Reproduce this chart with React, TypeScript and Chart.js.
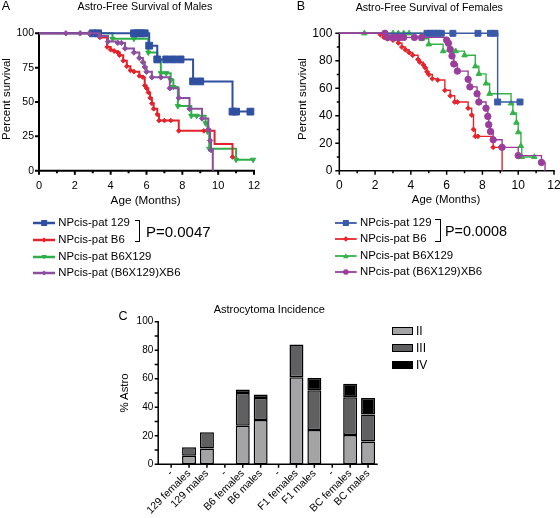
import React, { useEffect, useRef } from "react";
import { Chart, registerables } from "chart.js";

Chart.register(...registerables);

const FONT = "'Liberation Sans', Arial, Helvetica, sans-serif";
Chart.defaults.font.family = FONT;
Chart.defaults.color = "#000";

// ---------- shared ----------
const ageTicks = [0, 2, 4, 6, 8, 10, 12];
const ageMinor = [1, 3, 5, 7, 9, 11];
const malePctTicks = [0, 25, 50, 75, 100];
const femalePctTicks = [0, 20, 40, 60, 80, 100];
const femalePctMinor = [10, 30, 50, 70, 90];
const seriesNames = ["NPcis-pat 129", "NPcis-pat B6", "NPcis-pat B6X129", "NPcis-pat (B6X129)XB6"];

// ---------- Panel A: males (months, % survival, censor/marker flag) ----------
const m129Time = [0, 3.0, 3.3, 5.3, 5.5, 5.7, 5.9, 6.15, 6.6, 7.1, 7.5, 7.9, 8.6, 9.0, 10.8, 11.0, 11.8];
const m129Surv = [100, 100, 100, 100, 100, 100, 100, 91, 81, 81, 81, 81, 65, 65, 43, 43, 43];
const m129Mark = [0, 1, 1, 1, 1, 1, 1, 1, 1, 1, 1, 1, 1, 1, 1, 1, 1];

const mB6Time = [0, 3.4, 3.8, 4.0, 4.2, 4.4, 4.5, 4.7, 4.9, 5.1, 5.3, 5.6, 5.8, 5.9, 6.0, 6.1, 6.2, 6.3, 6.4, 6.6, 6.7, 7.0, 7.35, 7.8, 9.2, 9.8, 10.8];
const mB6Surv = [100, 97, 90, 88, 87, 86, 84, 80, 76, 73, 72, 69, 68, 62, 60, 57, 53, 49, 45, 41, 36.5, 36.5, 36.5, 29, 29, 19.5, 10];
const mB6Mark = [0, 1, 1, 1, 1, 1, 1, 1, 1, 1, 1, 1, 1, 1, 1, 1, 1, 1, 1, 1, 1, 1, 1, 1, 1, 0, 1];

const mB6X129Time = [0, 4.1, 5.3, 6.1, 6.6, 6.8, 7.1, 7.35, 7.5, 7.75, 8.5, 8.8, 9.3, 9.4, 9.5, 11.0, 11.95];
const mB6X129Surv = [100, 96, 96, 86, 81, 71, 71, 66, 61, 47, 40, 40, 34.5, 28.5, 16, 8, 8];
const mB6X129Mark = [0, 1, 1, 1, 1, 1, 1, 1, 1, 1, 1, 1, 1, 1, 1, 1, 1];

const mMixTime = [0, 1.5, 2.3, 2.8, 3.4, 3.85, 4.4, 4.6, 4.8, 5.3, 5.6, 5.8, 5.9, 6.0, 6.3, 6.8, 7.3, 7.8, 8.4, 9.1, 9.45, 9.55, 9.6, 9.7];
const mMixSurv = [100, 100, 100, 100, 98, 94, 93, 93, 89, 86, 82, 79, 75.5, 72, 68, 68, 60, 53, 45, 38, 30, 22, 15, 0];
const mMixMark = [0, 1, 1, 1, 1, 1, 1, 1, 1, 1, 1, 1, 1, 1, 1, 1, 1, 1, 1, 1, 1, 1, 1, 0];

// ---------- Panel B: females ----------
const f129Time = [0, 4.9, 5.1, 5.3, 5.5, 5.7, 6.35, 7.75, 8.45, 8.7, 8.85, 10.1];
const f129Surv = [100, 100, 100, 100, 100, 100, 100, 100, 100, 100, 50, 50];
const f129Mark = [0, 1, 1, 1, 1, 1, 1, 1, 1, 1, 1, 1];

const fB6Time = [0, 2.3, 2.5, 2.7, 3.0, 3.3, 3.5, 3.7, 3.9, 4.1, 4.4, 4.5, 4.7, 4.8, 4.9, 5.0, 5.2, 5.5, 5.9, 6.2, 6.45, 6.6, 7.2, 7.4, 7.5, 7.6, 7.75, 8.6, 9.0, 9.1];
const fB6Surv = [100, 99, 97, 96, 95, 93, 90, 88, 86, 84, 81, 79, 77, 75, 72, 70, 67, 66, 58.5, 54.5, 50, 50, 45.5, 40.5, 30, 25, 25, 17, 17, 0];
const fB6Mark = [0, 1, 1, 1, 1, 1, 1, 1, 1, 1, 1, 1, 1, 1, 1, 1, 1, 1, 1, 1, 1, 1, 1, 1, 1, 1, 1, 1, 1, 0];

const fB6X129Time = [0, 1.4, 3.0, 3.3, 3.6, 3.9, 4.6, 5.0, 5.8, 6.5, 7.0, 7.6, 7.8, 8.2, 8.4, 9.6, 9.7, 9.9, 10.0, 10.15, 10.2, 10.9];
const fB6X129Surv = [100, 100, 100, 100, 100, 100, 96, 92, 87, 87, 84, 76, 70.5, 63.5, 56, 49, 42, 35, 28, 18, 10, 10];
const fB6X129Mark = [0, 1, 1, 1, 1, 1, 1, 1, 1, 1, 1, 1, 1, 1, 1, 1, 1, 1, 1, 1, 1, 1];

const fMixTime = [0, 2.55, 2.7, 3.0, 3.2, 3.4, 3.6, 4.2, 4.6, 6.0, 6.1, 6.2, 6.3, 6.4, 6.6, 7.2, 7.3, 7.7, 7.8, 8.2, 8.3, 8.35, 8.45, 8.6, 9.1, 10.0, 11.3, 11.5];
const fMixSurv = [100, 100, 97, 97, 97, 97, 97, 97, 97, 95, 92.7, 88.3, 83.5, 77.7, 72.5, 66.5, 61, 56, 50, 45.5, 39.5, 33.5, 28.5, 22.5, 17, 11, 6, 0];
const fMixMark = [0, 1, 1, 1, 1, 1, 1, 1, 1, 1, 1, 1, 1, 1, 1, 1, 1, 1, 1, 1, 1, 1, 1, 1, 1, 1, 1, 0];

// ---------- Panel C: incidence ----------
const incidenceCategories = ["-", "129 females", "129 males", "-", "B6 females", "B6 males", "-", "F1 females", "F1 males", "-", "BC females", "BC males"];
const gradeII = [null, 6, 11, null, 27, 31, null, 61, 24, null, 20.5, 16];
const gradeIII = [null, 6, 11.5, null, 23, 15.5, null, 23, 28, null, 26.5, 19];
const gradeIV = [null, null, null, null, 2.5, 2.5, null, null, 8.5, null, 9.5, 11.5];
const gradeNames = ["II", "III", "IV"];
const incidenceTicks = [0, 10, 20, 30, 40, 50, 60, 70, 80, 90, 100];

// ---------- colours ----------
const A_COLORS = ["#2f4fa0", "#e3232b", "#2fae49", "#8c4f9f"];
const B_COLORS = ["#3a5aa8", "#e6262c", "#35b34a", "#9b3d9d"];
const GRADE_COLORS = ["#a4a4a6", "#606062", "#000000"];

// ---------- plugin drawing axes + ticks ----------
const axesPlugin = {
  id: "axesDraw",
  beforeDatasetsDraw(chart: any, _args: any, opts: any) {
    const { ctx } = chart;
    const xs = chart.scales.x;
    const ys = chart.scales.y;
    const lw = opts.lineWidth || 1.5;
    const ax = chart.chartArea.left - (opts.yAxisOffset || 0);
    const y0 = ys.getPixelForValue(opts.yMin ?? 0);
    const y1 = ys.getPixelForValue(opts.yMax ?? 100);
    const xEnd = chart.chartArea.right;
    ctx.save();
    ctx.strokeStyle = "#000";
    ctx.lineWidth = lw;
    ctx.lineCap = "butt";
    ctx.beginPath();
    ctx.moveTo(ax, y1 - lw / 2);
    ctx.lineTo(ax, y0);
    ctx.lineTo(xEnd + lw / 2, y0);
    ctx.stroke();
    const major = opts.majorLen || 4;
    const minor = opts.minorLen || 2.5;
    ctx.lineWidth = opts.tickWidth || lw;
    ctx.beginPath();
    (opts.yMajor || []).forEach((v: number) => {
      const p = ys.getPixelForValue(v);
      ctx.moveTo(ax, p);
      ctx.lineTo(ax - major, p);
    });
    (opts.yMinorTicks || []).forEach((v: number) => {
      const p = ys.getPixelForValue(v);
      ctx.moveTo(ax, p);
      ctx.lineTo(ax - minor, p);
    });
    (opts.xMajor || []).forEach((v: number) => {
      const p = xs.getPixelForValue(v);
      ctx.moveTo(p, y0);
      ctx.lineTo(p, y0 + major);
    });
    (opts.xMinorTicks || []).forEach((v: number) => {
      const p = xs.getPixelForValue(v);
      ctx.moveTo(p, y0);
      ctx.lineTo(p, y0 + minor);
    });
    ctx.stroke();
    ctx.restore();
  },
};

function kmDataset(t: number[], s: number[], marks: number[], color: string, style: string, radius: number, lineWidth: number, order: number, rotation = 0) {
  return {
    data: t.map((x, i) => ({ x, y: s[i] })),
    borderColor: color,
    backgroundColor: color,
    borderWidth: lineWidth,
    stepped: "before",
    fill: false,
    clip: false,
    order,
    pointStyle: style,
    pointRotation: rotation,
    pointRadius: (c: any) => (marks[c.dataIndex] ? radius : 0),
    pointHoverRadius: 0,
    pointBorderWidth: 1,
    pointBackgroundColor: color,
    pointBorderColor: color,
    borderJoinStyle: "miter",
  };
}

function survivalConfig(datasets: any[], w: number, h: number, area: any, yStep: number, yMajor: number[], yMinor: number[], tickSize: number, yTickSize: number, xPad: number, yPad: number, axisWidth: number) {
  return {
    type: "line",
    data: { datasets },
    plugins: [axesPlugin],
    options: {
      animation: false,
      responsive: false,
      devicePixelRatio: 1,
      events: [],
      layout: { padding: { left: 0, top: area.top, right: w - area.right, bottom: 0 } },
      plugins: {
        legend: { display: false },
        tooltip: { enabled: false },
        axesDraw: {
          lineWidth: axisWidth,
          yMajor,
          yMinorTicks: yMinor,
          xMajor: ageTicks,
          xMinorTicks: ageMinor,
          majorLen: 4,
          minorLen: 2.5,
          yMin: 0,
          yMax: 100,
        },
      },
      scales: {
        x: {
          type: "linear",
          min: 0,
          max: 12,
          grid: { display: false, drawTicks: false },
          border: { display: false },
          ticks: { stepSize: 2, font: { size: tickSize, family: FONT }, color: "#000", padding: xPad, maxRotation: 0 },
          afterFit: (s: any) => {
            s.height = h - area.bottom;
            s.paddingLeft = 0;
            s.paddingRight = 0;
          },
        },
        y: {
          type: "linear",
          min: 0,
          max: 100,
          grid: { display: false, drawTicks: false },
          border: { display: false },
          ticks: { stepSize: yStep, font: { size: yTickSize, family: FONT }, color: "#000", padding: yPad },
          afterFit: (s: any) => {
            s.width = area.left;
            s.paddingTop = 0;
            s.paddingBottom = 0;
          },
        },
      },
    },
  };
}

function CanvasBox({ left, top, width, height, make }: any) {
  const ref = useRef<HTMLCanvasElement>(null);
  useEffect(() => {
    const chart = new Chart(ref.current as HTMLCanvasElement, make());
    return () => chart.destroy();
  }, []);
  return (
    <canvas
      ref={ref}
      width={width}
      height={height}
      style={{ position: "absolute", left, top, width, height }}
    />
  );
}

function Txt({ x, y, size, children, align = "center" }: any) {
  const tx = align === "center" ? "-50%" : align === "right" ? "-100%" : "0";
  return (
    <div
      style={{
        position: "absolute",
        left: x,
        top: y,
        fontSize: size,
        lineHeight: 1,
        whiteSpace: "nowrap",
        transform: `translate(${tx}, -50%)`,
        color: "#000",
      }}
    >
      {children}
    </div>
  );
}

// vertical (rotated -90deg) text in a fixed, even-sized box centred on (x, y)
function VTxt({ x, y, size, children }: any) {
  const W = 120;
  const H = 14;
  return (
    <div
      style={{
        position: "absolute",
        left: x - W / 2,
        top: y - H / 2,
        width: W,
        height: H,
        fontSize: size,
        lineHeight: `${H}px`,
        textAlign: "center",
        whiteSpace: "nowrap",
        fontWeight: 400,
        transform: "rotate(-90deg)",
        color: "#000",
      }}
    >
      {children}
    </div>
  );
}

function LegendMark({ shape, color, lineWidth, x1, x2, y, r }: any) {
  const w = x2 - x1;
  const cx = w / 2;
  const cy = 6;
  let m: any = null;
  if (shape === "square") m = <rect x={cx - r} y={cy - r} width={2 * r} height={2 * r} fill={color} />;
  else if (shape === "diamond") m = <polygon points={`${cx},${cy - r} ${cx + r},${cy} ${cx},${cy + r} ${cx - r},${cy}`} fill={color} />;
  else if (shape === "triDown") m = <polygon points={`${cx - r},${cy - r * 0.8} ${cx + r},${cy - r * 0.8} ${cx},${cy + r}`} fill={color} />;
  else if (shape === "triUp") m = <polygon points={`${cx - r},${cy + r * 0.8} ${cx + r},${cy + r * 0.8} ${cx},${cy - r}`} fill={color} />;
  else if (shape === "circle") m = <circle cx={cx} cy={cy} r={r} fill={color} />;
  return (
    <svg width={w} height={12} style={{ position: "absolute", left: x1, top: y - 6 }}>
      <line x1={0} y1={cy} x2={w} y2={cy} stroke={color} strokeWidth={lineWidth} />
      {m}
    </svg>
  );
}

function Bracket({ x1, x2, y1, y2 }: any) {
  return (
    <div
      style={{
        position: "absolute",
        left: x1,
        top: y1,
        width: x2 - x1,
        height: y2 - y1,
        borderTop: "1.5px solid #000",
        borderRight: "1.5px solid #000",
        borderBottom: "1.5px solid #000",
        boxSizing: "border-box",
      }}
    />
  );
}

export default function App() {
  const makeA = () =>
    survivalConfig(
      [
        kmDataset(m129Time, m129Surv, m129Mark, A_COLORS[0], "rect", 4.8, 2, 1),
        kmDataset(mB6Time, mB6Surv, mB6Mark, A_COLORS[1], "rectRot", 2.3, 2, 2),
        kmDataset(mB6X129Time, mB6X129Surv, mB6X129Mark, A_COLORS[2], "triangle", 3, 2, 3, 180),
        kmDataset(mMixTime, mMixSurv, mMixMark, A_COLORS[3], "rectRot", 2.7, 2, 0),
      ],
      270,
      200,
      { left: 39, top: 33.3, right: 254, bottom: 170.7 },
      25,
      malePctTicks,
      [],
      11,
      10.5,
      8.5,
      5,
      2
    );

  const makeB = () =>
    survivalConfig(
      [
        kmDataset(f129Time, f129Surv, f129Mark, B_COLORS[0], "rect", 4.2, 1.4, 1),
        kmDataset(fB6Time, fB6Surv, fB6Mark, B_COLORS[1], "rectRot", 2.4, 1.4, 2),
        kmDataset(fB6X129Time, fB6X129Surv, fB6X129Mark, B_COLORS[2], "triangle", 3.2, 1.4, 3),
        kmDataset(fMixTime, fMixSurv, fMixMark, B_COLORS[3], "circle", 3.2, 1.4, 0),
      ],
      280,
      200,
      { left: 59.3, top: 33.3, right: 274, bottom: 170.7 },
      20,
      femalePctTicks,
      femalePctMinor,
      12,
      12,
      7.6,
      7,
      1.5
    );

  const makeC = () => ({
    type: "bar",
    data: {
      labels: incidenceCategories,
      datasets: [gradeII, gradeIII, gradeIV].map((d, i) => ({
        label: gradeNames[i],
        data: d,
        backgroundColor: GRADE_COLORS[i],
        borderColor: "#000",
        borderWidth: 1.5,
        borderSkipped: false,
        barPercentage: 0.78,
        categoryPercentage: 1,
      })),
    },
    plugins: [axesPlugin],
    options: {
      animation: false,
      responsive: false,
      devicePixelRatio: 1,
      events: [],
      layout: { padding: { left: 0, top: 21.7, right: 13, bottom: 0 } },
      plugins: {
        legend: { display: false },
        tooltip: { enabled: false },
        axesDraw: {
          lineWidth: 1.5,
          yAxisOffset: 4,
          yMajor: incidenceTicks,
          yMinorTicks: [],
          xMajor: incidenceCategories.map((_, i) => i),
          xMinorTicks: [],
          majorLen: 3.5,
          yMin: 0,
          yMax: 100,
        },
      },
      scales: {
        x: {
          stacked: true,
          grid: { display: false, drawTicks: false },
          border: { display: false },
          ticks: { autoSkip: false, minRotation: 45, maxRotation: 45, font: { size: 10.5, family: FONT }, color: "#000", padding: 3 },
          afterFit: (s: any) => {
            s.height = 218 - 164.3;
            s.paddingLeft = 0;
            s.paddingRight = 0;
          },
        },
        y: {
          stacked: true,
          min: 0,
          max: 100,
          grid: { display: false, drawTicks: false },
          border: { display: false },
          ticks: { stepSize: 10, font: { size: 10, family: FONT }, color: "#000", padding: 8.9 },
          afterFit: (s: any) => {
            s.width = 72.2;
            s.paddingTop = 0;
            s.paddingBottom = 0;
          },
        },
      },
    },
  });

  const aShapes = ["square", "diamond", "triDown", "diamond"];
  const bShapes = ["square", "diamond", "triUp", "circle"];
  const aRows = [223.3, 239.8, 256.7, 273.3];
  const bRows = [222.7, 239.3, 255.7, 271.7];
  const cLegendRows = [331, 348, 365];

  return (
    <div
      style={{
        position: "fixed",
        left: 0,
        top: 0,
        width: 560,
        height: 518,
        background: "#fff",
        overflow: "hidden",
        fontFamily: FONT,
      }}
    >
      <CanvasBox left={0} top={0} width={270} height={200} make={makeA} />
      <CanvasBox left={280} top={0} width={280} height={200} make={makeB} />
      <CanvasBox left={90} top={300} width={300} height={218} make={makeC} />

      {/* Panel A texts */}
      <Txt x={6} y={6} size={12.5}>A</Txt>
      <Txt x={145} y={6} size={10.7}>Astro-Free Survival of Males</Txt>
      <VTxt x={6} y={99} size={11.5}>Percent survival</VTxt>
      <Txt x={145.7} y={199.5} size={11.7}>Age (Months)</Txt>

      {/* Panel B texts */}
      <Txt x={301} y={6} size={12.5}>B</Txt>
      <Txt x={429.3} y={6.5} size={10.7}>Astro-Free Survival of Females</Txt>
      <VTxt x={302} y={99} size={11.5}>Percent survival</VTxt>
      <Txt x={446} y={199.5} size={11.4}>Age (Months)</Txt>

      {/* Legend A */}
      {seriesNames.map((n, i) => (
        <React.Fragment key={"a" + i}>
          <LegendMark shape={aShapes[i]} color={A_COLORS[i]} lineWidth={2.5} x1={32.7} x2={55} y={aRows[i]} r={i === 0 ? 3 : 2.6} />
          <Txt x={58.3} y={aRows[i]} size={11.4} align="left">{n}</Txt>
        </React.Fragment>
      ))}
      <Bracket x1={135} x2={139.5} y1={220} y2={242} />
      <Txt x={146} y={231} size={15} align="left">P=0.0047</Txt>

      {/* Legend B */}
      {seriesNames.map((n, i) => (
        <React.Fragment key={"b" + i}>
          <LegendMark shape={bShapes[i]} color={B_COLORS[i]} lineWidth={1.8} x1={335} x2={356.7} y={bRows[i]} r={i === 0 ? 3 : 2.8} />
          <Txt x={360} y={bRows[i]} size={11.4} align="left">{n}</Txt>
        </React.Fragment>
      ))}
      <Bracket x1={435} x2={440.5} y1={218.5} y2={242} />
      <Txt x={445} y={230.5} size={14.4} align="left">P=0.0008</Txt>

      {/* Panel C texts */}
      <Txt x={123} y={316} size={12.5}>C</Txt>
      <Txt x={269.3} y={309} size={11}>Astrocytoma Incidence</Txt>
      <VTxt x={124} y={393} size={11.4}>% Astro</VTxt>
      {gradeNames.map((g, i) => (
        <React.Fragment key={"g" + i}>
          <div
            style={{
              position: "absolute",
              left: 391.7,
              top: cLegendRows[i] - 4.2,
              width: 21.6,
              height: 8.4,
              background: GRADE_COLORS[i],
              border: "1.5px solid #000",
              boxSizing: "border-box",
            }}
          />
          <Txt x={416} y={cLegendRows[i]} size={12} align="left">{g}</Txt>
        </React.Fragment>
      ))}
    </div>
  );
}
